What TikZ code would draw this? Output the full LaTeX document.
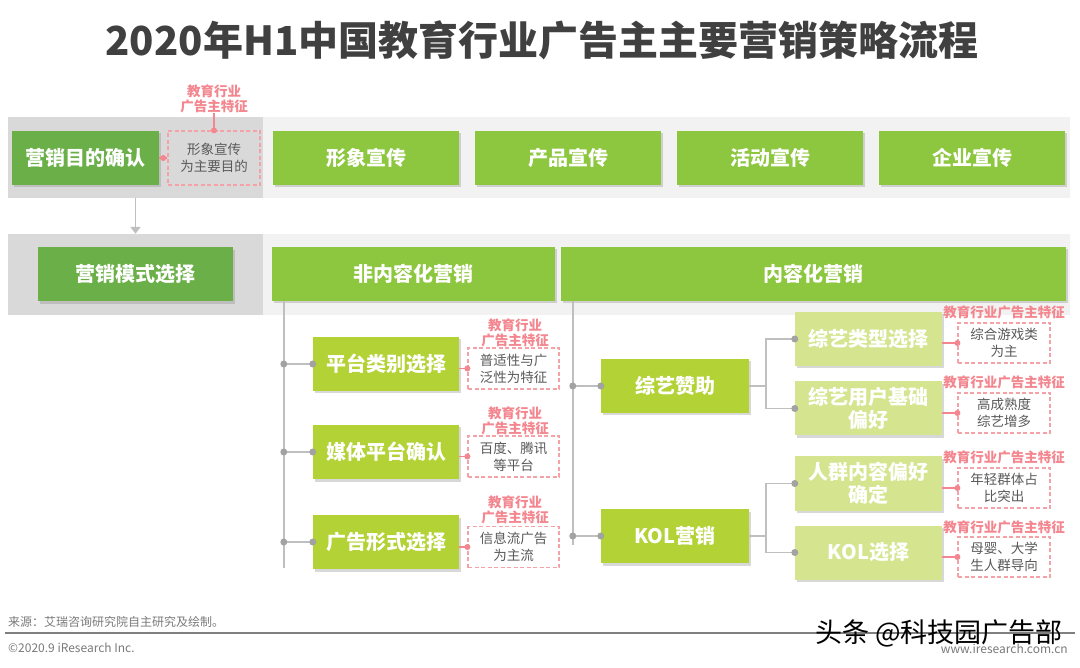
\documentclass[tikz,border=0pt]{standalone}
\usepackage{fontspec}
\setmainfont{Noto Sans CJK SC}
\usetikzlibrary{positioning,calc,shadows,arrows.meta}

\definecolor{deepgreen}{HTML}{6AAF47}
\definecolor{leafgreen}{HTML}{8DC63F}
\definecolor{sprgreen}{HTML}{B2D235}
\definecolor{palegreen}{HTML}{D5E58F}
\definecolor{tagpink}{HTML}{F3868E}
\definecolor{dashpink}{HTML}{F4A2A7}
\definecolor{linegray}{HTML}{BFBFBF}
\definecolor{titlegray}{HTML}{404040}
\definecolor{textgray}{HTML}{595959}
\definecolor{bandgray}{HTML}{D9D9D9}
\definecolor{bandlight}{HTML}{F2F2F2}

\begin{document}
\begin{tikzpicture}[x=1pt, y=-1pt,
    band/.style={inner sep=0pt, minimum height=81pt},
    box/.style={inner sep=0pt, minimum height=54pt, align=center, text=white,
        font=\fontsize{20}{23}\selectfont\bfseries,
        drop shadow={shadow xshift=2pt, shadow yshift=-2.5pt, opacity=.3}},
    tag/.style={text=tagpink, align=center, inner sep=0pt, font=\fontsize{13.5}{15}\selectfont\bfseries},
    note/.style={draw=dashpink, dash pattern=on 4pt off 2.5pt, line width=1.2pt, fill=white,
        text=textgray, align=center, inner sep=0pt, font=\fontsize{13.5}{17}\selectfont},
    link/.style={draw=linegray, line width=1.8pt},
    hint/.style={draw=tagpink, line width=1.3pt},
    arr/.style={link, -{Triangle[width=10pt,length=7pt]}}
]
    \useasboundingbox (0,0) rectangle (1080,668);
    \fill[white] (0,0) rectangle (1080,668);

    % title
    \node[text=titlegray, font=\fontsize{40}{44}\selectfont\bfseries] (title) at (542,40)
        {2020年H1中国教育行业广告主主要营销策略流程};

    % background bands
    \node[band, fill=bandgray, minimum width=255pt] (bandA) at (135.5,157.5) {};
    \node[band, fill=bandlight, minimum width=807pt] (bandAr) at (666.5,157.5) {};
    \node[band, fill=bandgray, minimum width=255pt] (bandB) at (135.5,274.5) {};
    \node[band, fill=bandlight, minimum width=807pt] (bandBr) at (666.5,274.5) {};

    % row 1: goal
    \node[box, fill=deepgreen, minimum width=147pt] (goal) at (85.5,158) {营销目的确认};
    \node[note, fill=none, minimum width=92pt, minimum height=54pt] (goalN) at (214,158) {形象宣传\\为主要目的};
    \node[tag] (goalT) at (214,99) {教育行业\\广告主特征};
    \draw[hint] (goalT.south) -- (goalN.north);
    \fill[tagpink] (goalN.north) circle (3pt);
    \draw[hint] (goalN.west) -- (goal.east);
    \fill[tagpink] (goal.east) ++(4,0) circle (3pt);

    \node[box, fill=leafgreen, minimum width=186pt] (image) at (366,158) {形象宣传};
    \node[box, fill=leafgreen, minimum width=186pt] (product) at (568,158) {产品宣传};
    \node[box, fill=leafgreen, minimum width=186pt] (event) at (770,158) {活动宣传};
    \node[box, fill=leafgreen, minimum width=186pt] (brand) at (972,158) {企业宣传};

    % row 2: mode
    \node[box, fill=deepgreen, minimum width=195pt] (mode) at (135.5,274.5) {营销模式选择};
    \draw[arr] (bandA.south -| mode.north) -- (bandB.north -| mode.north);

    \node[box, fill=leafgreen, minimum width=283pt] (nonc) at (413.5,274) {非内容化营销};
    \node[box, fill=leafgreen, minimum width=505pt] (cont) at (813.5,274) {内容化营销};

    % non-content branch
    \coordinate (ntop) at ($(nonc.south west)+(12,0)$);
    \coordinate (nbot) at (ntop |- 0,568);
    \draw[link] (ntop) -- (nbot);

    \node[box, fill=sprgreen, minimum width=146pt] (plat) at (386,364) {平台类别选择};
    \node[box, fill=sprgreen, minimum width=146pt] (media) at (386,452) {媒体平台确认};
    \node[box, fill=sprgreen, minimum width=146pt] (adform) at (386,542) {广告形式选择};

    \node[note, minimum width=91pt, minimum height=41pt] (platN) at (513.5,368.5) {普适性与广\\泛性为特征};
    \node[note, minimum width=91pt, minimum height=41pt] (mediaN) at (513.5,456.5) {百度、腾讯\\等平台};
    \node[note, minimum width=91pt, minimum height=41pt] (adformN) at (513.5,547) {信息流广告\\为主流};

    \node[tag] (platT) at (515,332.5) {教育行业\\广告主特征};
    \node[tag] (mediaT) at (515,420.5) {教育行业\\广告主特征};
    \node[tag] (adformT) at (515,510) {教育行业\\广告主特征};

    % content branch
    \coordinate (ctop) at ($(cont.south west)+(12,0)$);
    \coordinate (cbot) at (ctop |- 0,545);
    \draw[link] (ctop) -- (cbot);

    \node[box, fill=sprgreen, minimum width=148pt] (variety) at (675,386) {综艺赞助};
    \node[box, fill=sprgreen, minimum width=148pt] (kol) at (675,536) {KOL营销};

    \node[box, fill=palegreen, minimum width=147pt] (genre) at (868.5,339) {综艺类型选择};
    \node[box, fill=palegreen, minimum width=147pt] (viewer) at (868.5,408.5) {综艺用户基础\\偏好};
    \node[box, fill=palegreen, minimum width=147pt] (crowd) at (868.5,483.5) {人群内容偏好\\确定};
    \node[box, fill=palegreen, minimum width=147pt] (kolpick) at (868.5,552.5) {KOL选择};

    \node[note, minimum width=92pt, minimum height=40pt] (genreN) at (1004,343) {综合游戏类\\为主};
    \node[note, minimum width=92pt, minimum height=40pt] (viewerN) at (1004,413) {高成熟度\\综艺增多};
    \node[note, minimum width=92pt, minimum height=40pt] (crowdN) at (1004,488) {年轻群体占\\比突出};
    \node[note, minimum width=92pt, minimum height=40pt] (kolpickN) at (1004,557) {母婴、大学\\生人群导向};

    \node[tag] (genreT) at (1004,312) {教育行业广告主特征};
    \node[tag] (viewerT) at (1004,382) {教育行业广告主特征};
    \node[tag] (crowdT) at (1004,457) {教育行业广告主特征};
    \node[tag] (kolpickT) at (1004,527) {教育行业广告主特征};

    % gray ticks and brackets
    \draw[link] (ntop |- plat.west) -- (plat.west);
    \draw[link] (ntop |- media.west) -- (media.west);
    \draw[link] (ntop |- adform.west) -- (adform.west);
    \draw[link] (ctop |- variety.west) -- (variety.west);
    \draw[link] (ctop |- kol.west) -- (kol.west);
    \draw[link] (variety.east) -- ++(17,0) |- (genre.west);
    \draw[link] (variety.east) -- ++(17,0) |- (viewer.west);
    \draw[link] (kol.east) -- ++(17,0) |- (crowd.west);
    \draw[link] (kol.east) -- ++(17,0) |- (kolpick.west);
    \foreach \b in {plat,media,adform}
        \fill[linegray!85!black] (ntop |- \b.west) circle (3.5pt) (\b.west) circle (3.5pt);
    \foreach \b in {variety,kol}
        \fill[linegray!85!black] (ctop |- \b.west) circle (3.5pt) (\b.west) circle (3.5pt);
    \foreach \b in {genre,viewer,crowd,kolpick}
        \fill[linegray!85!black] (\b.west) circle (3.5pt);

    % pink hints
    \foreach \b in {plat,media,adform,genre,viewer,crowd,kolpick} {
        \draw[hint] (\b.east |- \b N.west) -- (\b N.west);
        \fill[tagpink] (\b N.west) circle (3pt);
    }

    % footer
    \node[anchor=west, text=textgray!80, inner sep=0pt, font=\fontsize{12}{14}\selectfont] (src) at (8,622)
        {来源：艾瑞咨询研究院自主研究及绘制。};
    \coordinate (ruleL) at (5,633);
    \coordinate (ruleR) at (1075,633);
    \draw[draw=gray, line width=1.3pt] (ruleL) -- (ruleR);
    \node[anchor=west, text=textgray!80, inner sep=0pt, font=\fontsize{12}{14}\selectfont] (copy) at (8,648)
        {©2020.9 iResearch Inc.};
    \node[anchor=east, text=textgray!80, inner sep=0pt, font=\fontsize{12}{14}\selectfont] (site) at (1068,649)
        {www.iresearch.com.cn};
    \node[anchor=east, text=black, inner sep=0pt, font=\fontsize{27}{30}\selectfont] (mark) at (1063,633)
        {头条 @科技园广告部};
\end{tikzpicture}
\end{document}
